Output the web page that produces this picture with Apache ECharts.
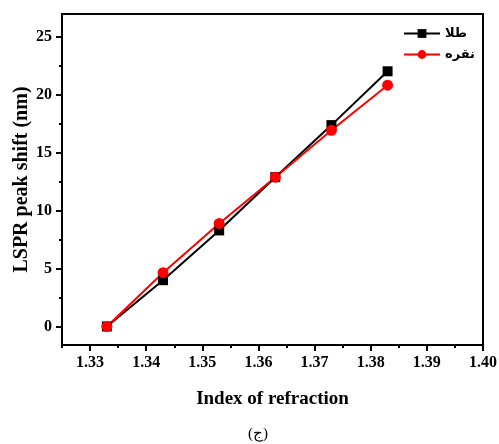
<!DOCTYPE html>
<html><head><meta charset="utf-8">
<script src="https://cdn.jsdelivr.net/npm/echarts@6/dist/echarts.min.js"></script>
<style>html,body{margin:0;padding:0;background:#fff}#c{width:499px;height:444px}</style>
</head><body><div id="c"></div>
<script>
const refractiveIndex = [1.333, 1.343, 1.353, 1.363, 1.373, 1.383];
const goldShift = [0, 4.0, 8.3, 12.9, 17.4, 22.05];
const silverShift = [0, 4.65, 8.9, 12.9, 16.95, 20.85];
const xMajorTicks = [1.33, 1.34, 1.35, 1.36, 1.37, 1.38, 1.39, 1.40];
const xMinorTicks = [1.325, 1.335, 1.345, 1.355, 1.365, 1.375, 1.385, 1.395];
const yMajorTicks = [0, 5, 10, 15, 20, 25];
const yMinorTicks = [2.5, 7.5, 12.5, 17.5, 22.5];
const seriesNames = ['طلا', 'نقره'];

const font = 'Liberation Serif, Times New Roman, DejaVu Serif, serif';
const chart = echarts.init(document.getElementById('c'));
const lbl = {color:'#000', fontFamily:font, fontWeight:'bold', fontSize:16};
chart.setOption({
  animation:false,
  backgroundColor:'#fff',
  grid:{left:62, right:16, top:14, bottom:99, outerBoundsMode:'none', containLabel:false, show:true, borderColor:'#000', borderWidth:2, backgroundColor:'transparent'},
  legend:{
    right:19, top:22, orient:'vertical', itemGap:8, itemWidth:36, itemHeight:11,
    textStyle:{color:'#000', fontFamily:'DejaVu Sans, sans-serif', fontWeight:'bold', fontSize:13},
    data:seriesNames
  },
  xAxis:[{
    type:'value', min:1.325, max:1.40,
    axisLine:{onZero:false, lineStyle:{color:'#000', width:2}},
    axisTick:{show:true, length:6, lineStyle:{color:'#000', width:2}, customValues:xMajorTicks},
    axisLabel:Object.assign({margin:10, customValues:xMajorTicks, formatter:v=>v.toFixed(2)}, lbl),
    splitLine:{show:false},
    name:'Index of refraction', nameLocation:'middle', nameGap:45,
    nameTextStyle:{color:'#000', fontFamily:font, fontWeight:'bold', fontSize:19}
  },{
    type:'value', min:1.325, max:1.40, position:'bottom',
    axisLine:{show:false, onZero:false},
    axisTick:{show:true, length:3, lineStyle:{color:'#000', width:2}, customValues:xMinorTicks},
    axisLabel:{show:false}, splitLine:{show:false}
  }],
  yAxis:[{
    type:'value', min:-1.6, max:27,
    axisLine:{onZero:false, lineStyle:{color:'#000', width:2}},
    axisTick:{show:true, length:6, lineStyle:{color:'#000', width:2}, customValues:yMajorTicks},
    axisLabel:Object.assign({margin:10, customValues:yMajorTicks}, lbl),
    splitLine:{show:false},
    name:'LSPR peak shift (nm)', nameLocation:'middle', nameGap:30, nameMoveOverlap:false,
    nameTextStyle:{color:'#000', fontFamily:font, fontWeight:'bold', fontSize:20}
  },{
    type:'value', min:-1.6, max:27, position:'left',
    axisLine:{show:false, onZero:false},
    axisTick:{show:true, length:3, lineStyle:{color:'#000', width:2}, customValues:yMinorTicks},
    axisLabel:{show:false}, splitLine:{show:false}
  }],
  graphic:[{type:'text', left:248, top:427, style:{text:'(ج)', fill:'#000', font:'15px ' + font}}],
  series:[{
    name:seriesNames[0], type:'line', symbol:'rect', symbolSize:10,
    data:refractiveIndex.map((x,i)=>[x, goldShift[i]]),
    lineStyle:{color:'#000', width:2}, itemStyle:{color:'#000'}
  },{
    name:seriesNames[1], type:'line', symbol:'circle', symbolSize:11,
    data:refractiveIndex.map((x,i)=>[x, silverShift[i]]),
    lineStyle:{color:'#f00', width:2}, itemStyle:{color:'#f00'}
  }]
});
</script></body></html>
